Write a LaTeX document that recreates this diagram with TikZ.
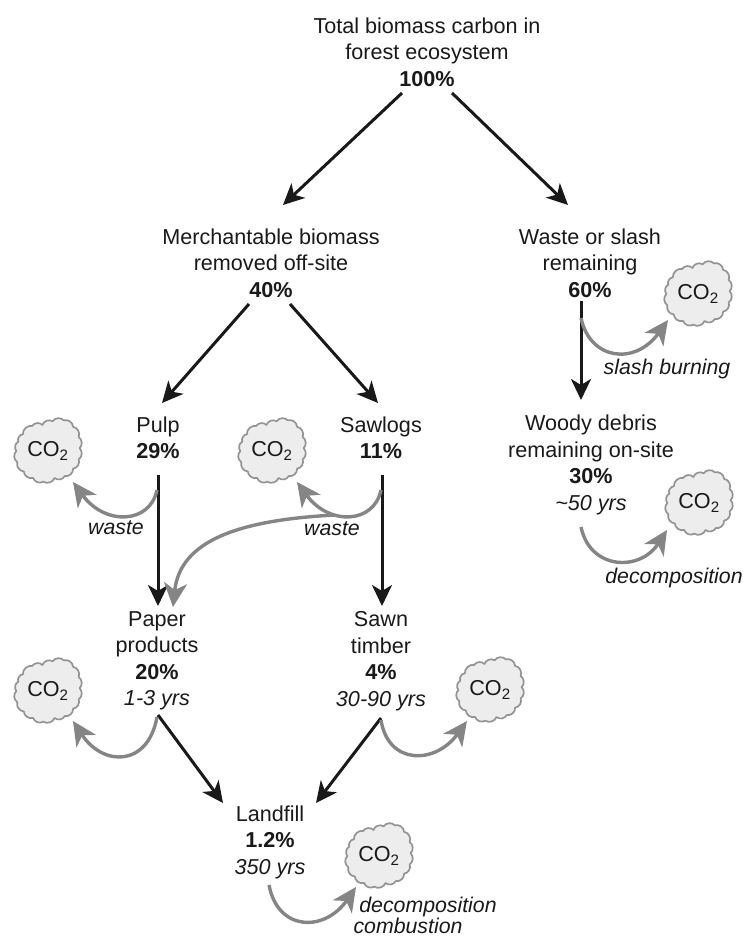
\documentclass[tikz,border=0pt]{standalone}
\usepackage{fontspec}
\setmainfont{Liberation Sans}
\usetikzlibrary{arrows.meta}
\tikzset{
  lbl/.style={align=center,inner sep=0pt,font=\fontsize{21.6}{26.5}\selectfont,text=black!90},
  note/.style={inner sep=0pt,font=\fontsize{21.3}{18}\selectfont\itshape,text=black!90},
  flow/.style={draw=black!90,line width=3pt,-{Stealth[length=21pt,width=20pt,inset=6pt]}},
  loss/.style={draw=black!48,line width=3.4pt,-{Stealth[length=24pt,width=23pt,inset=7pt]}},
  puffline/.style={draw=black!42,fill=black!7,line width=1.7pt,line join=round},
  puff/.style={bend left=52},
  coo/.style={inner sep=0pt,font=\fontsize{21.6}{22}\selectfont,text=black!90}
}
\newcommand{\COtwo}{CO\textsubscript{2}}
\newcommand{\cooat}[3]{%
  \path[puffline,shift={(#2,#3)},scale=.93] (-27,-18) to[puff] (-17,-27) to[puff] (-6,-28) to[puff] (5,-32) to[puff] (17,-33)
    to[puff] (27,-26) to[puff] (33,-15) to[puff] (34,-3) to[puff] (33,9) to[puff] (27,19) to[puff] (18,27)
    to[puff] (7,29) to[puff] (-5,33) to[puff] (-16,29) to[puff] (-26,22) to[puff] (-33,12) to[puff] (-34,0)
    to[puff] (-32,-10) to[puff] (-27,-18) -- cycle;
  \node[coo] (#1) at (#2,#3) {\COtwo};}
\begin{document}
\begin{tikzpicture}[x=1pt,y=-1pt]
\useasboundingbox (0,0) rectangle (742,937);
\node[lbl] (top) at (427,52) {Total biomass carbon in\\forest ecosystem\\\textbf{100\%}};
\node[lbl] (merch) at (271,263) {Merchantable biomass\\removed off-site\\\textbf{40\%}};
\node[lbl] (waste) at (590,263) {Waste or slash\\remaining\\\textbf{60\%}};
\node[lbl] (pulp) at (158,438) {Pulp\\\textbf{29\%}};
\node[lbl] (saw) at (381,438) {Sawlogs\\\textbf{11\%}};
\node[lbl] (woody) at (591,465) {Woody debris\\remaining on-site\\\textbf{30\%}\\\textit{\char`\~50 yrs}};
\node[lbl] (paper) at (157,661) {Paper\\products\\\textbf{20\%}\\\textit{1-3 yrs}};
\node[lbl] (timber) at (381,661) {Sawn\\timber\\\textbf{4\%}\\\textit{30-90 yrs}};
\node[lbl] (land) at (270,842) {Landfill\\\textbf{1.2\%}\\\textit{350 yrs}};
\cooat{c1}{48}{451}
\cooat{c2}{272}{451}
\cooat{c3}{698}{294}
\cooat{c4}{699}{503}
\cooat{c5}{48}{691}
\cooat{c6}{490}{690}
\cooat{c7}{379}{856}
\node[note] (n1) at (667,369) {slash burning};
\node[note] (n2) at (674,578) {decomposition};
\node[note] (n3) at (116,528) {waste};
\node[note] (n4) at (332,529) {waste};
\node[note] (n5) at (428,907) {decomposition};
\node[note] (n6) at (408,926) {combustion};
\draw[flow] ([shift={(-25,41)}]top.center) -- ([shift={(12,-58)}]merch.center);
\draw[flow] ([shift={(25,41)}]top.center) -- ([shift={(-22,-58)}]waste.center);
\draw[flow] ([shift={(-22,41)}]merch.center) -- ([shift={(4,-35)}]pulp.center);
\draw[flow] ([shift={(19,41)}]merch.center) -- ([shift={(-3,-35)}]saw.center);
\draw[flow] ([shift={(-9,38)}]waste.center) -- ([shift={(-10,-65)}]woody.center);
\draw[flow] ([shift={(0,37)}]pulp.center) -- ([shift={(1,-55)}]paper.center);
\draw[flow] ([shift={(1,37)}]saw.center) -- ([shift={(1,-55)}]timber.center);
\draw[flow] ([shift={(1,54)}]paper.center) -- ([shift={(-47,-39)}]land.center);
\draw[flow] ([shift={(0,57)}]timber.center) -- ([shift={(46,-39)}]land.center);
\draw[loss] ([shift={(-9,55)}]waste.center) .. controls (590,360) and (635,366) .. ([shift={(-30,26)}]c3.center);
\draw[loss] ([shift={(-1,52)}]pulp.center) .. controls (150,524) and (105,526) .. ([shift={(25,31)}]c1.center);
\draw[loss] ([shift={(0,52)}]saw.center) .. controls (374,524) and (329,526) .. ([shift={(25,31)}]c2.center);
\draw[loss] ([shift={(-46,77)}]saw.center) .. controls (240,520) and (180,540) .. ([shift={(16,-54)}]paper.center);
\draw[loss] ([shift={(0,56)}]paper.center) .. controls (148,767) and (103,767) .. ([shift={(25,30)}]c5.center);
\draw[loss] ([shift={(0,59)}]timber.center) .. controls (388,765) and (435,765) .. ([shift={(-23,31)}]c6.center);
\draw[loss] ([shift={(-10,62)}]woody.center) .. controls (590,570) and (640,572) .. ([shift={(-32,27)}]c4.center);
\draw[loss] ([shift={(-1,43)}]land.center) .. controls (278,932) and (325,932) .. ([shift={(-23,31)}]c7.center);
\end{tikzpicture}
\end{document}
